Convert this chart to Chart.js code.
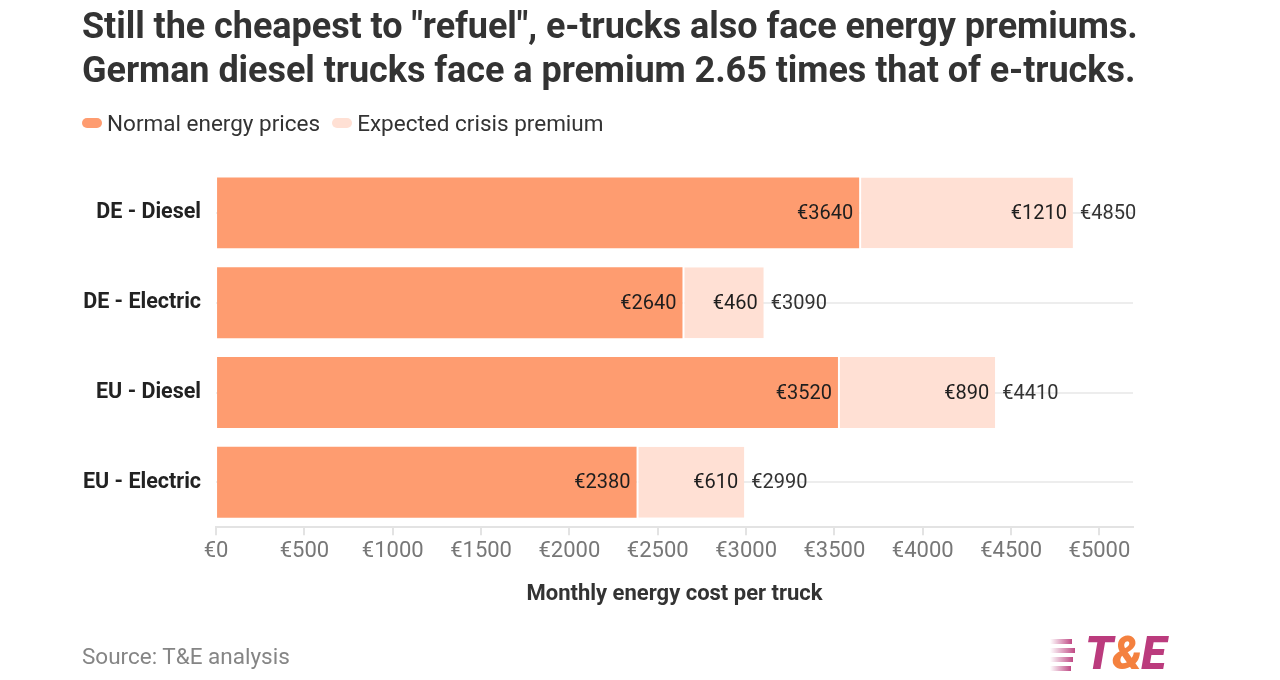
<!DOCTYPE html>
<html>
<head>
<meta charset="utf-8">
<script src="https://cdn.jsdelivr.net/npm/chart.js@4"></script>
<style>
  body { margin: 0; background: #fff; font-family: Roboto, sans-serif; }
  #wrap { position: absolute; left: 0; top: 0; width: 1280px; height: 680px; }
  h1 { position: absolute; left: 82px; top: 4px; margin: 0; font-size: 36px; line-height: 44px; font-weight: 700; color: #333; letter-spacing: -0.05px; white-space: nowrap; }
  .legend { position: absolute; left: 82px; top: 108px; font-size: 22.5px; color: #333; white-space: nowrap; }
  .legend span { display: inline-block; vertical-align: middle; }
  .legend .sw { width: 20px; height: 10px; border-radius: 5px; margin-right: 5px; }
  .legend .gap { width: 12px; }
  .source { position: absolute; left: 82px; top: 643px; font-size: 22.5px; color: #858585; }
  .logo { position: absolute; left: 1050px; top: 630px; width: 130px; height: 46px; }
  .logo .txt { position: absolute; left: 35px; top: -4px; font-size: 46px; font-weight: 900; font-style: italic; color: #bb3b7d; letter-spacing: -1px; }
  .logo .amp { color: #f4813f; }
  .logo i { position: absolute; left: 0; height: 5px; background: linear-gradient(90deg, #fff, #c04a85); }
</style>
</head>
<body>
<div id="wrap">
  <canvas id="barChart" width="1280" height="680"></canvas>
</div>
<h1>Still the cheapest to "refuel", e-trucks also face energy premiums.<br>German diesel trucks face a premium 2.65 times that of e-trucks.</h1>
<div class="legend" id="legend"></div>
<div class="source">Source: T&amp;E analysis</div>
<div class="logo">
  <i style="top:9px;width:22px"></i>
  <i style="top:18px;width:25px"></i>
  <i style="top:27px;width:23px"></i>
  <i style="top:36px;width:21px"></i>
  <div class="txt">T<span class="amp">&amp;</span>E</div>
</div>
<script>
const categories = ['DE - Diesel', 'DE - Electric', 'EU - Diesel', 'EU - Electric'];
const normalPrices = [3640, 2640, 3520, 2380];
const crisisPremium = [1210, 460, 890, 610];
const totals = [4850, 3090, 4410, 2990];
const xTicks = [0, 500, 1000, 1500, 2000, 2500, 3000, 3500, 4000, 4500, 5000];

const euro = v => '€' + v;

// value labels inside the bars and totals to the right
const barLabels = {
    id: 'barLabels',
    afterDatasetsDraw(chart) {
        const c = chart.ctx;
        c.save();
        c.font = '20px Roboto';
        c.textBaseline = 'middle';
        chart.data.datasets.forEach((ds, i) => {
            chart.getDatasetMeta(i).data.forEach((bar, j) => {
                c.fillStyle = '#1e1e1e';
                c.textAlign = 'right';
                c.fillText(euro(ds.data[j]), bar.x - 6, bar.y + 1);
                if (i === 1) {
                    c.fillStyle = '#333';
                    c.textAlign = 'left';
                    c.fillText(euro(totals[j]), bar.x + 7, bar.y + 1);
                }
            });
        });
        c.restore();
    }
};

const ctx = document.getElementById('barChart');

const chart = new Chart(ctx, {
    type: 'bar',
    data: {
        labels: categories,
        datasets: [{
            label: 'Normal energy prices',
            data: normalPrices,
            backgroundColor: '#fe9c70',
            borderWidth: 0,
            categoryPercentage: 0.79,
            barPercentage: 1
        }, {
            label: 'Expected crisis premium',
            data: crisisPremium,
            backgroundColor: '#ffe0d4',
            borderColor: '#fff',
            borderWidth: {left: 2, right: 0, top: 0, bottom: 0},
            borderSkipped: false,
            categoryPercentage: 0.79,
            barPercentage: 1
        }]
    },
    options: {
        indexAxis: 'y',
        responsive: false,
        animation: false,
        layout: {
            padding: {left: 68, right: 147, top: 168, bottom: 68}
        },
        plugins: {
            legend: {display: false},
            tooltip: {enabled: false}
        },
        scales: {
            x: {
                stacked: true,
                min: 0,
                max: 5190,
                afterBuildTicks: axis => {
                    axis.ticks = xTicks.map(v => ({value: v}));
                },
                ticks: {
                    color: '#777',
                    font: {family: 'Roboto', size: 22},
                    padding: 3,
                    maxRotation: 0,
                    callback: v => euro(v)
                },
                grid: {
                    drawOnChartArea: false,
                    drawTicks: true,
                    tickLength: 8,
                    color: '#e3e3e3',
                    lineWidth: 2
                },
                border: {display: true, color: '#e3e3e3', width: 2},
                title: {
                    display: true,
                    text: 'Monthly energy cost per truck',
                    color: '#333',
                    font: {family: 'Roboto', size: 22, weight: 'bold'},
                    padding: {top: 14}
                }
            },
            y: {
                stacked: true,
                ticks: {
                    color: '#222',
                    font: {family: 'Roboto', size: 21.5, weight: 'bold'},
                    padding: 15
                },
                grid: {
                    offset: false,
                    drawTicks: false,
                    color: '#ededed',
                    lineWidth: 2
                },
                border: {display: false}
            }
        }
    },
    plugins: [barLabels]
});

// html legend built from the chart datasets
const legendEl = document.getElementById('legend');
chart.data.datasets.forEach((ds, i) => {
    if (i > 0) legendEl.insertAdjacentHTML('beforeend', '<span class="gap"></span>');
    legendEl.insertAdjacentHTML('beforeend',
        '<span class="sw" style="background:' + ds.backgroundColor + '"></span><span>' + ds.label + '</span>');
});
</script>
</body>
</html>
